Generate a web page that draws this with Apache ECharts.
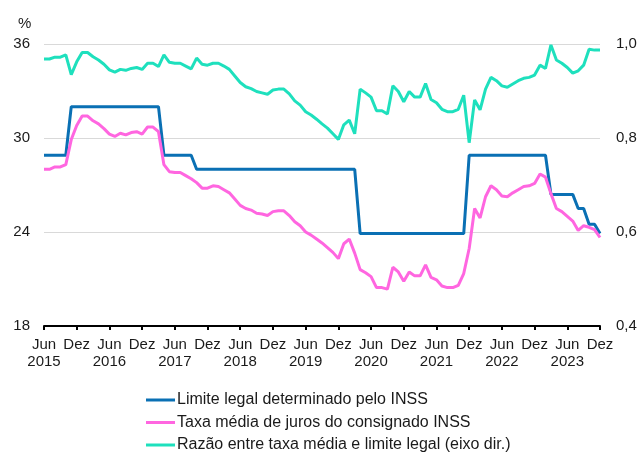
<!DOCTYPE html>
<html>
<head>
<meta charset="utf-8">
<script src="https://cdn.jsdelivr.net/npm/echarts@6/dist/echarts.min.js"></script>
<style>
  html, body { margin: 0; padding: 0; background: #fff; }
  #chart { width: 641px; height: 452px; }
</style>
</head>
<body>
<div id="chart"></div>
<script>
// meses de Jun/2015 a Dez/2023
const monthNames = ['Jan', 'Fev', 'Mar', 'Abr', 'Mai', 'Jun', 'Jul', 'Ago', 'Set', 'Out', 'Nov', 'Dez'];
const firstYear = 2015, firstMonth = 5, nMonths = 103;

const categories = [];
for (let i = 0; i < nMonths; i++) {
    const m = (firstMonth + i) % 12;
    const y = firstYear + Math.floor((firstMonth + i) / 12);
    categories.push(monthNames[m] + ' ' + y);
}

// Limite legal determinado pelo INSS (% a.a.)
const limite = [
    28.9, 28.9, 28.9, 28.9, 28.9,
    32, 32, 32, 32, 32, 32, 32, 32, 32, 32, 32, 32, 32, 32, 32, 32, 32,
    28.9, 28.9, 28.9, 28.9, 28.9, 28.9,
    28, 28, 28, 28, 28, 28, 28, 28, 28, 28, 28, 28, 28, 28, 28,
    28, 28, 28, 28, 28, 28, 28, 28, 28, 28, 28, 28, 28, 28, 28,
    23.9, 23.9, 23.9, 23.9, 23.9, 23.9, 23.9, 23.9, 23.9, 23.9,
    23.9, 23.9, 23.9, 23.9, 23.9, 23.9, 23.9, 23.9, 23.9, 23.9,
    28.9, 28.9, 28.9, 28.9, 28.9, 28.9, 28.9, 28.9, 28.9, 28.9, 28.9, 28.9, 28.9, 28.9, 28.9,
    26.4, 26.4, 26.4, 26.4, 26.4,
    25.5, 25.5,
    24.5, 24.5,
    23.9
];

// Taxa média de juros do consignado INSS (% a.a.)
const taxa = [
    28.0, 28.0, 28.15, 28.15, 28.3, 29.9, 30.8, 31.4, 31.4, 31.1,
    30.9, 30.6, 30.25, 30.1, 30.3, 30.2, 30.35, 30.4, 30.25, 30.7,
    30.7, 30.4, 28.3, 27.85, 27.8, 27.8, 27.6, 27.4, 27.15, 26.8,
    26.8, 26.95, 26.9, 26.7, 26.5, 26.1, 25.7, 25.5, 25.4, 25.2,
    25.15, 25.05, 25.3, 25.35, 25.35, 25.05, 24.65, 24.4, 24.0, 23.8,
    23.55, 23.3, 23.0, 22.7, 22.3, 23.25, 23.55, 22.65, 21.6, 21.4,
    21.15, 20.45, 20.45, 20.35, 21.75, 21.45, 20.85, 21.45, 21.2, 21.2,
    21.9, 21.1, 20.95, 20.55, 20.45, 20.45, 20.6, 21.35, 22.95, 25.5,
    24.9, 26.25, 26.95, 26.7, 26.3, 26.25, 26.5, 26.7, 26.9, 26.95,
    27.1, 27.7, 27.5, 26.45, 25.5, 25.3, 25.0, 24.7, 24.1, 24.4,
    24.3, 24.15, 23.65
];

// Razão entre taxa média e limite legal (eixo dir.)
const razao = [
    0.968, 0.968, 0.972, 0.972, 0.977, 0.935, 0.962, 0.982, 0.982, 0.973,
    0.966, 0.957, 0.945, 0.940, 0.946, 0.944, 0.948, 0.950, 0.946, 0.959,
    0.959, 0.952, 0.977, 0.961, 0.959, 0.959, 0.953, 0.947, 0.970, 0.957,
    0.955, 0.959, 0.959, 0.953, 0.946, 0.932, 0.918, 0.909, 0.905, 0.899,
    0.896, 0.893, 0.902, 0.904, 0.904, 0.894, 0.879, 0.870, 0.856, 0.849,
    0.840, 0.830, 0.821, 0.809, 0.797, 0.828, 0.838, 0.809, 0.904, 0.896,
    0.887, 0.858, 0.858, 0.851, 0.911, 0.899, 0.877, 0.899, 0.887, 0.887,
    0.916, 0.882, 0.875, 0.861, 0.856, 0.856, 0.861, 0.891, 0.790, 0.881,
    0.860, 0.904, 0.929, 0.922, 0.911, 0.908, 0.915, 0.922, 0.927, 0.929,
    0.934, 0.955, 0.948, 0.998, 0.966, 0.959, 0.950, 0.938, 0.943, 0.955,
    0.989, 0.987, 0.987
];

const FONT = "'Liberation Sans', Arial, sans-serif";
const TXT = '#1a1a1a';

const chart = echarts.init(document.getElementById('chart'));
chart.setOption({
    animation: false,
    textStyle: { fontFamily: FONT },
    title: {
        text: '%',
        left: 13,
        top: 11,
        textStyle: { fontSize: 15, fontWeight: 'normal', color: TXT, fontFamily: FONT }
    },
    grid: { left: 44, right: 41, top: 44, bottom: 126, containLabel: false },
    legend: {
        orient: 'vertical',
        left: 146,
        top: 391,
        height: 90,
        padding: 0,
        itemWidth: 29,
        itemHeight: 3,
        itemGap: 4.5,
        icon: 'rect',
        textStyle: { fontSize: 16, lineHeight: 18, color: TXT, fontFamily: FONT, padding: [0, 0, 0, -3] },
        data: [
            'Limite legal determinado pelo INSS',
            'Taxa média de juros do consignado INSS',
            'Razão entre taxa média e limite legal (eixo dir.)'
        ]
    },
    xAxis: {
        type: 'category',
        boundaryGap: false,
        data: categories,
        axisLine: { show: true, lineStyle: { color: '#000', width: 2 } },
        axisTick: { show: true, interval: 5, length: 4, lineStyle: { color: '#000', width: 2 } },
        axisLabel: {
            interval: 5,
            margin: 10,
            fontSize: 15,
            lineHeight: 17,
            color: TXT,
            fontFamily: FONT,
            formatter: function (v) {
                const p = v.split(' ');
                return p[0] === 'Jun' ? p[0] + '\n' + p[1] : p[0];
            }
        },
        splitLine: { show: false }
    },
    yAxis: [
        {
            type: 'value',
            min: 18,
            max: 36,
            interval: 6,
            axisLine: { show: false },
            axisTick: { show: false },
            axisLabel: { fontSize: 15, color: TXT, margin: 14, fontFamily: FONT },
            splitLine: { lineStyle: { color: '#d9d9d9', width: 1 } }
        },
        {
            type: 'value',
            min: 0.4,
            max: 1.0,
            interval: 0.2,
            axisLine: { show: false },
            axisTick: { show: false },
            axisLabel: {
                fontSize: 15, color: TXT, margin: 16, fontFamily: FONT,
                formatter: function (v) { return v.toFixed(1).replace('.', ','); }
            },
            splitLine: { show: false }
        }
    ],
    series: [
        {
            name: 'Limite legal determinado pelo INSS',
            type: 'line',
            yAxisIndex: 0,
            symbol: 'none',
            color: '#0a70b4',
            lineStyle: { width: 3 },
            data: limite
        },
        {
            name: 'Taxa média de juros do consignado INSS',
            type: 'line',
            yAxisIndex: 0,
            symbol: 'none',
            color: '#ff66e0',
            lineStyle: { width: 3 },
            data: taxa
        },
        {
            name: 'Razão entre taxa média e limite legal (eixo dir.)',
            type: 'line',
            yAxisIndex: 1,
            symbol: 'none',
            color: '#1ee0bd',
            lineStyle: { width: 3 },
            data: razao
        }
    ]
});
</script>
</body>
</html>
